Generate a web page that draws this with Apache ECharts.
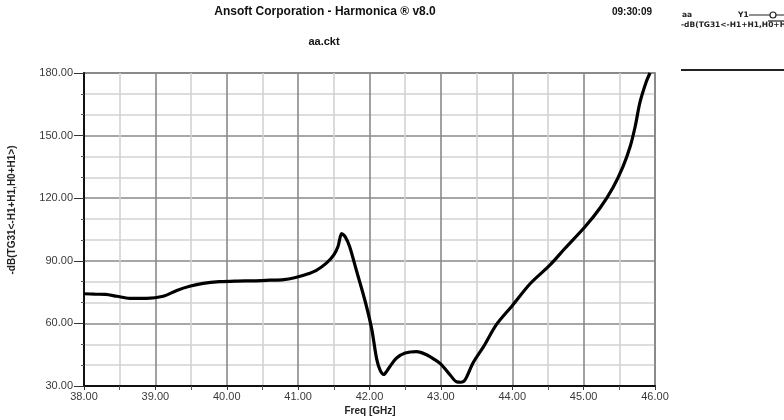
<!DOCTYPE html>
<html>
<head>
<meta charset="utf-8">
<script src="https://cdn.jsdelivr.net/npm/echarts@6/dist/echarts.min.js"></script>
<style>
  html, body { margin: 0; padding: 0; background: #fff; }
  #chart { width: 784px; height: 420px; }
</style>
</head>
<body>
<div id="chart"></div>
<script>
// Sweep frequency (GHz) and the traced response in dB
const freq = [
  38.00, 38.15, 38.30, 38.46, 38.64, 38.88, 39.11, 39.30, 39.48, 39.67,
  39.90, 40.15, 40.37, 40.60, 40.80, 40.95, 41.10, 41.25, 41.40, 41.50,
  41.56, 41.61, 41.66, 41.72, 41.82, 41.94, 42.03, 42.10, 42.15, 42.20,
  42.25, 42.30, 42.38, 42.50, 42.66, 42.80, 42.92, 43.00, 43.13, 43.22,
  43.28, 43.34, 43.45, 43.60, 43.78, 44.00, 44.25, 44.53, 44.74, 45.02,
  45.23, 45.41, 45.55, 45.65, 45.72, 45.79, 45.88, 45.93
];
const dB = [
  74.2, 74.0, 73.9, 73.0, 72.0, 72.0, 73.0, 75.8, 77.8, 79.2,
  80.0, 80.3, 80.4, 80.7, 81.0, 81.9, 83.3, 85.3, 89.0, 92.8,
  97.0, 103.0, 101.5, 97.0, 85.0, 70.5, 57.5, 43.0, 37.5, 35.5,
  37.5, 40.0, 43.4, 45.8, 46.5, 45.0, 42.5, 40.5, 35.3, 32.0,
  31.8, 33.0, 41.0, 49.0, 59.5, 68.5, 79.0, 88.0, 96.0, 106.3,
  115.3, 125.0, 135.0, 144.5, 154.0, 166.0, 176.0, 180.0
];

// Axis ranges and label steps
const xRange = [38, 46];
const yRange = [30, 180];
const xMinorStep = 0.5, xMajorStep = 1;
const yMinorStep = 10, yMajorStep = 30;

const titleText = 'Ansoft Corporation - Harmonica \u00AE v8.0';
const subTitleText = 'aa.ckt';
const timeText = '09:30:09';
const xName = 'Freq [GHz]';
const yName = '-dB(TG31<-H1+H1,H0+H1>)';
const legendName = 'aa';
const legendTrace = 'Y1';

const FONT = '"Liberation Sans", Arial, sans-serif';
const WIDE_FONT = '"DejaVu Sans", sans-serif';
const points = freq.map((f, i) => [f, dB[i]]);

const chart = echarts.init(document.getElementById('chart'), null, { renderer: 'canvas' });

const labelStyle = { color: '#3a3a3a', fontSize: 11, fontFamily: FONT };

chart.setOption({
  animation: false,
  backgroundColor: '#fff',
  grid: { left: 84, right: 129, top: 73, bottom: 34, show: true, borderColor: '#666', borderWidth: 1.5 },
  xAxis: [
    {
      type: 'value', min: xRange[0], max: xRange[1], interval: xMinorStep,
      axisLine: { show: true, lineStyle: { color: '#111', width: 2 } },
      axisTick: { show: true, length: 4, lineStyle: { color: '#555' } },
      axisLabel: { show: false },
      splitLine: { show: true, lineStyle: { color: ['#8a8a8a', '#d2d2d2'], width: 1.6 } }
    },
    {
      type: 'value', min: xRange[0], max: xRange[1], interval: xMajorStep,
      position: 'bottom', offset: 0,
      axisLine: { show: false },
      axisTick: { show: true, length: 4, lineStyle: { color: '#333' } },
      axisLabel: Object.assign({ margin: 5, formatter: v => v.toFixed(2) }, labelStyle),
      splitLine: { show: false }
    }
  ],
  yAxis: [
    {
      type: 'value', min: yRange[0], max: yRange[1], interval: yMinorStep,
      axisLine: { show: true, lineStyle: { color: '#111', width: 2 } },
      axisTick: { show: true, length: 3, lineStyle: { color: '#555' } },
      axisLabel: { show: false },
      splitLine: { show: true, lineStyle: { color: ['#8a8a8a', '#d2d2d2', '#d2d2d2'], width: 1.6 } }
    },
    {
      type: 'value', min: yRange[0], max: yRange[1], interval: yMajorStep,
      position: 'left', offset: 0,
      axisLine: { show: false },
      axisTick: { show: true, length: 10, lineStyle: { color: '#333' } },
      axisLabel: Object.assign({ margin: 11, formatter: v => v.toFixed(2) }, labelStyle),
      splitLine: { show: false }
    }
  ],
  series: [{
    type: 'line',
    xAxisIndex: 0,
    yAxisIndex: 0,
    data: points,
    smooth: 0.3,
    showSymbol: false,
    clip: true,
    lineStyle: { color: '#000', width: 3.2 }
  }],
  graphic: [
    { type: 'text', style: { text: titleText, x: 325, y: 12, align: 'center', verticalAlign: 'middle', font: 'bold 12px ' + FONT, fill: '#111' } },
    { type: 'text', style: { text: subTitleText, x: 324, y: 42, align: 'center', verticalAlign: 'middle', font: 'bold 11px ' + FONT, fill: '#111' } },
    { type: 'text', style: { text: timeText, x: 652, y: 12, align: 'right', verticalAlign: 'middle', font: 'bold 10px ' + FONT, fill: '#111' } },
    { type: 'text', style: { text: xName, x: 370, y: 411, align: 'center', verticalAlign: 'middle', font: 'bold 10px ' + FONT, fill: '#222' } },
    { type: 'text', rotation: Math.PI / 2, x: 12, y: 210, style: { text: yName, x: 0, y: 0, align: 'center', verticalAlign: 'middle', font: 'bold 10px ' + FONT, fill: '#222' } },
    // legend block
    { type: 'text', style: { text: legendName, x: 682, y: 15, align: 'left', verticalAlign: 'middle', font: 'bold 7.5px ' + WIDE_FONT, fill: '#222' } },
    { type: 'text', style: { text: legendTrace, x: 738, y: 15, align: 'left', verticalAlign: 'middle', font: 'bold 7.5px ' + WIDE_FONT, fill: '#222' } },
    { type: 'line', shape: { x1: 749, y1: 15, x2: 784, y2: 15 }, style: { stroke: '#222', lineWidth: 1.2 } },
    { type: 'circle', shape: { cx: 773, cy: 15, r: 3 }, style: { fill: '#fff', stroke: '#222', lineWidth: 1.2 } },
    { type: 'line', shape: { x1: 768, y1: 21, x2: 784, y2: 21 }, style: { stroke: '#222', lineWidth: 1.2 } },
    { type: 'text', style: { text: yName, x: 681, y: 25, align: 'left', verticalAlign: 'middle', font: 'bold 7.5px ' + WIDE_FONT, fill: '#222' } },
    { type: 'line', shape: { x1: 681, y1: 70, x2: 784, y2: 70 }, style: { stroke: '#222', lineWidth: 2 } }
  ]
});
</script>
</body>
</html>
